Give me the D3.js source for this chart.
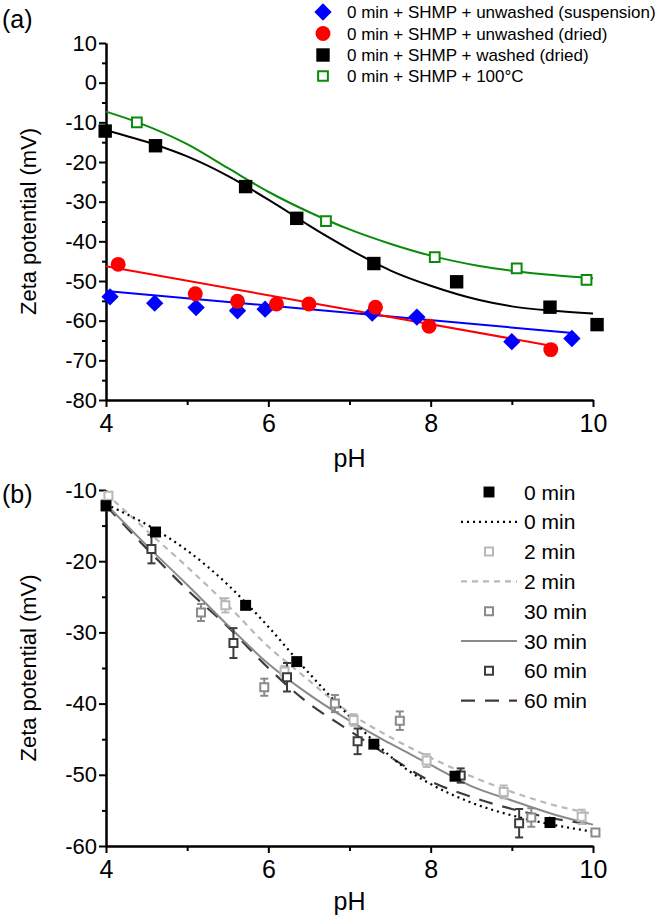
<!DOCTYPE html>
<html>
<head>
<meta charset="utf-8">
<script src="https://cdn.jsdelivr.net/npm/d3@7/dist/d3.min.js"></script>
<style>
  html, body { margin: 0; padding: 0; background: #fff; }
  svg { display: block; }
  text { font-family: "Liberation Sans", Arial, Helvetica, sans-serif; fill: #000; }
</style>
</head>
<body>
<svg id="chart" width="664" height="921"></svg>
<script>
// ---------------- DATA ----------------
// Panel (a) measured points [pH, zeta mV]
const unwashedSuspension = [[4.05,-54.0],[4.60,-55.6],[5.11,-56.7],[5.62,-57.5],[5.96,-57.1],[7.28,-58.1],[7.83,-59.1],[9.00,-65.3],[9.74,-64.5]];
const unwashedDried = [[4.15,-45.8],[5.10,-53.2],[5.62,-55.1],[6.10,-55.8],[6.50,-55.8],[7.32,-56.6],[7.98,-61.4],[9.48,-67.3]];
const washedDried = [[3.99,-12.2],[4.61,-15.9],[5.72,-26.2],[6.35,-34.2],[7.30,-45.6],[8.32,-50.2],[9.47,-56.6],[10.05,-61.0]];
const heated100 = [[4.38,-10.0],[6.71,-34.9],[8.05,-44.0],[9.06,-46.8],[9.92,-49.7]];
// Panel (a) fitted lines
const fitSuspension = [[4.0,-52.5],[9.75,-63.1]];
const fitDried = [[4.0,-46.3],[9.48,-66.3]];
const fitWashed = [[4.0,-12.0],[4.6,-15.6],[5.0,-18.6],[5.5,-23.5],[6.0,-29.5],[6.35,-34.0],[6.5,-36.0],[7.0,-42.0],[7.3,-45.3],[7.5,-47.3],[8.0,-51.2],[8.6,-54.8],[9.0,-56.4],[9.5,-57.5],[10.0,-58.2]];
const fitHeated = [[4.0,-7.3],[4.39,-10.0],[5.0,-15.5],[5.5,-21.5],[6.0,-27.5],[6.5,-32.6],[7.0,-37.0],[7.5,-40.6],[8.0,-43.6],[8.6,-46.2],[9.0,-47.4],[9.5,-48.5],[10.0,-49.3]];
const legendA = ["0 min + SHMP + unwashed (suspension)","0 min + SHMP + unwashed (dried)","0 min + SHMP + washed (dried)","0 min + SHMP + 100\u00B0C"];

// Panel (b) measured points [pH, zeta mV, error]
const min0 = [[4.0,-12.2,0],[4.61,-15.9,0],[5.72,-26.2,0],[6.35,-34.1,0],[7.30,-45.7,0],[8.30,-50.2,0],[9.47,-56.7,0]];
const min2 = [[4.03,-10.8,0.6],[5.47,-26.2,1.0],[6.20,-35.5,0.8],[7.05,-42.3,0.8],[7.95,-48.0,0.9],[8.90,-52.4,0.9],[9.86,-55.9,1.0]];
const min30 = [[4.0,-12.0,0.5],[5.17,-27.2,1.2],[5.95,-37.7,1.2],[6.82,-40.0,1.2],[7.62,-42.4,1.3],[9.24,-56.0,1.3],[10.03,-58.1,0.4]];
const min60 = [[4.0,-12.3,0.5],[4.56,-18.3,2.0],[5.57,-31.5,2.1],[6.23,-36.3,2.0],[7.10,-45.3,1.8],[8.37,-50.1,1.0],[9.09,-56.8,2.0]];
// Panel (b) fitted curves
const fit0 = [[4.0,-12.0],[4.6,-15.5],[5.0,-18.5],[5.5,-23.3],[5.72,-25.8],[6.0,-29.2],[6.35,-33.8],[6.7,-38.2],[7.0,-41.8],[7.3,-45.3],[7.75,-49.6],[8.0,-51.3],[8.5,-53.9],[9.0,-55.7],[9.5,-57.0],[10.0,-58.0]];
const fit2 = [[4.0,-10.5],[4.6,-16.7],[5.0,-20.8],[5.5,-26.2],[6.0,-32.0],[6.4,-35.8],[7.0,-41.3],[7.5,-44.7],[8.0,-47.6],[8.5,-50.2],[9.0,-52.4],[9.5,-54.2],[10.0,-55.5]];
const fit30 = [[4.0,-12.0],[4.6,-18.9],[5.0,-23.3],[5.5,-29.0],[6.0,-34.4],[6.4,-37.9],[7.0,-42.4],[7.5,-45.6],[8.0,-48.6],[8.5,-51.6],[9.0,-53.6],[9.5,-55.5],[10.0,-57.0]];
const fit60 = [[4.0,-12.2],[4.6,-19.4],[5.0,-24.0],[5.5,-29.2],[6.0,-35.0],[6.4,-39.1],[7.0,-43.8],[7.5,-47.5],[8.0,-50.9],[8.5,-53.1],[9.0,-54.8],[9.5,-56.1],[10.0,-57.0]];
const legendB = ["0 min","0 min","2 min","2 min","30 min","30 min","60 min","60 min"];

// Ticks
const xMajor = [4,6,8,10], xMinor = [5,7,9];
const yAMajor = [10,0,-10,-20,-30,-40,-50,-60,-70,-80];
const yAMinor = [5,-5,-15,-25,-35,-45,-55,-65,-75];
const yBMajor = [-10,-20,-30,-40,-50,-60];
const yBMinor = [-15,-25,-35,-45,-55];

// ---------------- DRAW ----------------
const svg = d3.select("#chart");
const FONT = '"Liberation Sans", Arial, Helvetica, sans-serif';
const xL = 106, xR = 593;
const xA = d3.scaleLinear().domain([4,10]).range([xL,xR]);
const yA = d3.scaleLinear().domain([-80,10]).range([400,43]);
const xB = d3.scaleLinear().domain([4,10]).range([xL,xR]);
const yB = d3.scaleLinear().domain([-60,-10]).range([846,490]);

const BLUE = "#0000ff", RED = "#ff0000", GREEN = "#0a8a0a";
const G2 = "#b8b8b8", G30 = "#8a8a8a", G60 = "#3c3c3c";
const plainFmt = d => String(d);

function drawAxes(x, y, yMaj, yMin, top, bottom) {
  const gx = svg.append("g").attr("transform", `translate(0,${bottom})`);
  gx.call(d3.axisBottom(x).tickValues(xMajor).tickSize(7).tickSizeOuter(0).tickFormat(plainFmt));
  gx.append("g").call(d3.axisBottom(x).tickValues(xMinor).tickSize(5).tickSizeOuter(0).tickFormat(""));
  gx.selectAll("text").attr("y", 32).attr("dy", null).style("font-size", "25px").style("font-family", FONT);
  const gy = svg.append("g").attr("transform", `translate(${xL},0)`);
  gy.call(d3.axisLeft(y).tickValues(yMaj).tickSize(7).tickSizeOuter(0).tickFormat(plainFmt));
  gy.append("g").call(d3.axisLeft(y).tickValues(yMin).tickSize(4).tickSizeOuter(0).tickFormat(""));
  gy.selectAll("text").attr("x", -9).style("font-size", "22px").style("font-family", FONT);
  svg.selectAll(".domain").attr("stroke", "#000").attr("stroke-width", 2);
  svg.selectAll(".tick line").attr("stroke", "#000").attr("stroke-width", 2);
}

// ---- Panel (a)
drawAxes(xA, yA, yAMajor, yAMinor, 43, 400);
svg.append("text").attr("x", 2).attr("y", 28).style("font-size", "25px").text("(a)");
svg.append("text").attr("transform", `translate(36,${(43+400)/2}) rotate(-90)`)
  .attr("text-anchor", "middle").style("font-size", "22px").text("Zeta potential (mV)");
svg.append("text").attr("x", (xL+xR)/2).attr("y", 467).attr("text-anchor", "middle")
  .style("font-size", "25px").text("pH");

const lineA = d3.line().x(d => xA(d[0])).y(d => yA(d[1])).curve(d3.curveMonotoneX);
[[fitSuspension, BLUE],[fitDried, RED],[fitWashed, "#000"],[fitHeated, GREEN]].forEach(([data, col]) => {
  svg.append("path").datum(data).attr("d", lineA).attr("fill", "none").attr("stroke", col).attr("stroke-width", 2);
});

const diamond = d3.symbol().type(d3.symbolSquare).size(150);
const circle = d3.symbol().type(d3.symbolCircle).size(175);
const squareA = d3.symbol().type(d3.symbolSquare).size(180);
const openA = d3.symbol().type(d3.symbolSquare).size(95);

function markers(data, x, y, gen, fill, stroke, sw, rot) {
  svg.append("g").selectAll("path").data(data).join("path")
    .attr("transform", d => `translate(${x(d[0])},${y(d[1])})${rot ? " rotate(45)" : ""}`)
    .attr("d", gen).attr("fill", fill).attr("stroke", stroke).attr("stroke-width", sw);
}
markers(unwashedSuspension, xA, yA, diamond, BLUE, "none", 0, true);
markers(unwashedDried, xA, yA, circle, RED, "none", 0, false);
markers(washedDried, xA, yA, squareA, "#000", "none", 0, false);
markers(heated100, xA, yA, openA, "#fff", GREEN, 2, false);

// legend (a)
const legAY = [12, 33.5, 55, 76];
const legAGen = [[diamond, BLUE, "none", 0, true],[circle, RED, "none", 0, false],[squareA, "#000", "none", 0, false],[openA, "#fff", GREEN, 2, false]];
legendA.forEach((t, i) => {
  const [gen, fill, stroke, sw, rot] = legAGen[i];
  svg.append("path").attr("transform", `translate(323,${legAY[i]})${rot ? " rotate(45)" : ""}`)
    .attr("d", gen).attr("fill", fill).attr("stroke", stroke).attr("stroke-width", sw);
  svg.append("text").attr("x", 347).attr("y", legAY[i]).attr("dy", "0.36em").style("font-size", "17px").text(t);
});

// ---- Panel (b)
drawAxes(xB, yB, yBMajor, yBMinor, 490, 846);
svg.append("text").attr("x", 2).attr("y", 503).style("font-size", "25px").text("(b)");
svg.append("text").attr("transform", `translate(36,${(490+846)/2}) rotate(-90)`)
  .attr("text-anchor", "middle").style("font-size", "22px").text("Zeta potential (mV)");
svg.append("text").attr("x", (xL+xR)/2).attr("y", 910).attr("text-anchor", "middle")
  .style("font-size", "25px").text("pH");

const lineB = d3.line().x(d => xB(d[0])).y(d => yB(d[1])).curve(d3.curveMonotoneX);
const styles = {
  f0: {stroke: "#000", dash: "2,4", w: 2.2},
  f2: {stroke: G2, dash: "6,5", w: 2.2},
  f30: {stroke: G30, dash: null, w: 2},
  f60: {stroke: G60, dash: "14,10", w: 2.2}
};
[[fit60, styles.f60],[fit30, styles.f30],[fit2, styles.f2],[fit0, styles.f0]].forEach(([data, s]) => {
  svg.append("path").datum(data).attr("d", lineB).attr("fill", "none")
    .attr("stroke", s.stroke).attr("stroke-width", s.w).attr("stroke-dasharray", s.dash);
});

function errBars(data, col) {
  const g = svg.append("g").attr("stroke", col).attr("stroke-width", 2);
  data.filter(d => d[2] > 0.7).forEach(d => {
    const cx = xB(d[0]), y1 = yB(d[1] + d[2]), y2 = yB(d[1] - d[2]);
    g.append("line").attr("x1", cx).attr("x2", cx).attr("y1", y1).attr("y2", y2);
    g.append("line").attr("x1", cx-4).attr("x2", cx+4).attr("y1", y1).attr("y2", y1);
    g.append("line").attr("x1", cx-4).attr("x2", cx+4).attr("y1", y2).attr("y2", y2);
  });
}
const openB = d3.symbol().type(d3.symbolSquare).size(64);
const fillB = d3.symbol().type(d3.symbolSquare).size(120);
[[min30, G30],[min2, G2],[min60, G60]].forEach(([data, col]) => errBars(data, col));
markers(min30, xB, yB, openB, "#fff", G30, 2, false);
markers(min2, xB, yB, openB, "#fff", G2, 2, false);
markers(min60, xB, yB, openB, "#fff", G60, 2, false);
markers(min0, xB, yB, fillB, "#000", "none", 0, false);

// legend (b)
const legBY = [492, 521.8, 551.6, 581.4, 611.2, 641, 670.8, 700.6];
const legBKind = [
  {sym: fillB, fill: "#000", stroke: "none", sw: 0},
  {line: styles.f0},
  {sym: openB, fill: "#fff", stroke: G2, sw: 2},
  {line: styles.f2},
  {sym: openB, fill: "#fff", stroke: G30, sw: 2},
  {line: styles.f30},
  {sym: openB, fill: "#fff", stroke: G60, sw: 2},
  {line: styles.f60}
];
legendB.forEach((t, i) => {
  const k = legBKind[i], yy = legBY[i];
  if (k.sym) {
    svg.append("path").attr("transform", `translate(489,${yy})`).attr("d", k.sym)
      .attr("fill", k.fill).attr("stroke", k.stroke).attr("stroke-width", k.sw);
  } else {
    svg.append("line").attr("x1", 461).attr("x2", 517).attr("y1", yy).attr("y2", yy)
      .attr("stroke", k.line.stroke).attr("stroke-width", k.line.w).attr("stroke-dasharray", k.line.dash);
  }
  svg.append("text").attr("x", 524).attr("y", yy).attr("dy", "0.36em").style("font-size", "21px").text(t);
});
</script>
</body>
</html>
